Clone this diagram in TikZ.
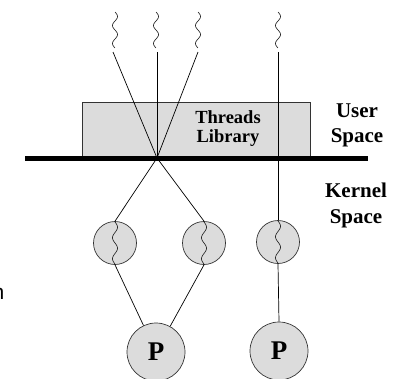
\documentclass[tikz,border=0pt]{standalone}
\usepackage{fontspec}
\setmainfont{Liberation Serif}
\newfontfamily\edgesans{Liberation Sans}
\definecolor{cellgray}{HTML}{DCDCDC}
% a vertical wavy thread: x centre, top y, length
\newcommand\wavy[3]{\draw[wave] plot[domain=0:1,samples=60,smooth] ({#1+2.5*sin(720*\x)},{#2+#3*\x});}
\begin{document}
\begin{tikzpicture}[x=1pt,y=-1pt,
  thread/.style={draw=black,line width=0.7pt},
  wave/.style={draw=black!85,line width=0.65pt},
  kthread/.style={circle,draw=black!80,fill=cellgray,line width=0.7pt,minimum size=43pt,inner sep=0pt},
  proc/.style={circle,draw=black!80,fill=cellgray,line width=0.7pt,minimum size=58pt,inner sep=0pt,
    font=\fontsize{27}{30}\selectfont\bfseries},
  spacelabel/.style={align=center,inner sep=0pt,font=\fontsize{21}{25}\selectfont\bfseries},
]
\useasboundingbox (0,0) rectangle (396,378);

% threads library box and the user/kernel boundary
\node[draw=black!80,fill=cellgray,line width=0.7pt,minimum width=228pt,minimum height=54pt,inner sep=0pt] (lib) at (196,129) {};
\node[align=center,inner sep=0pt,font=\fontsize{18.5}{19.5}\selectfont\bfseries] (libtext) at (228,128.5) {Threads\\Library};
\draw[line width=5pt] (25,158.5) -- (368,158.5);

% user-level threads
\wavy{115}{12}{36}
\wavy{156}{12}{36}
\wavy{198}{12}{36}
\wavy{278}{12}{36}
\coordinate (u1) at (113,52);
\coordinate (u2) at (157,52);
\coordinate (u3) at (198,52);
\coordinate (u4) at (278,52);
\coordinate (cross) at (157,158);

% kernel threads
\node[kthread] (k1) at (115,243) {};
\node[kthread] (k2) at (204,243) {};
\node[kthread] (k3) at (278,242) {};
\wavy{115}{222}{42}
\wavy{204}{222}{42}
\wavy{278}{221}{42}

% processors
\node[proc] (p1) at (156,352) {P};
\node[proc] (p2) at (279,351) {P};

% connections
\draw[thread] (u1) -- (cross);
\draw[thread] (u2) -- (cross);
\draw[thread] (u3) -- (cross);
\draw[thread] (cross) -- (k1.north);
\draw[thread] (cross) -- (k2.north);
\draw[thread] (u4) -- (k3.north);
\draw[thread] (k1.south) -- (p1);
\draw[thread] (k2.south) -- (p1);
\draw[thread] (k3.south) -- (p2.north);

% region labels
\node[spacelabel] (user) at (357,125.6) {User\\Space};
\node[spacelabel,font=\fontsize{21}{26}\selectfont\bfseries] (kernel) at (356,205) {Kernel\\Space};

% letter cut by the left edge
\node[anchor=base west,inner sep=0pt,font=\edgesans\fontsize{21}{21}\selectfont] (cut) at (-7.5,299) {n};
\end{tikzpicture}
\end{document}
